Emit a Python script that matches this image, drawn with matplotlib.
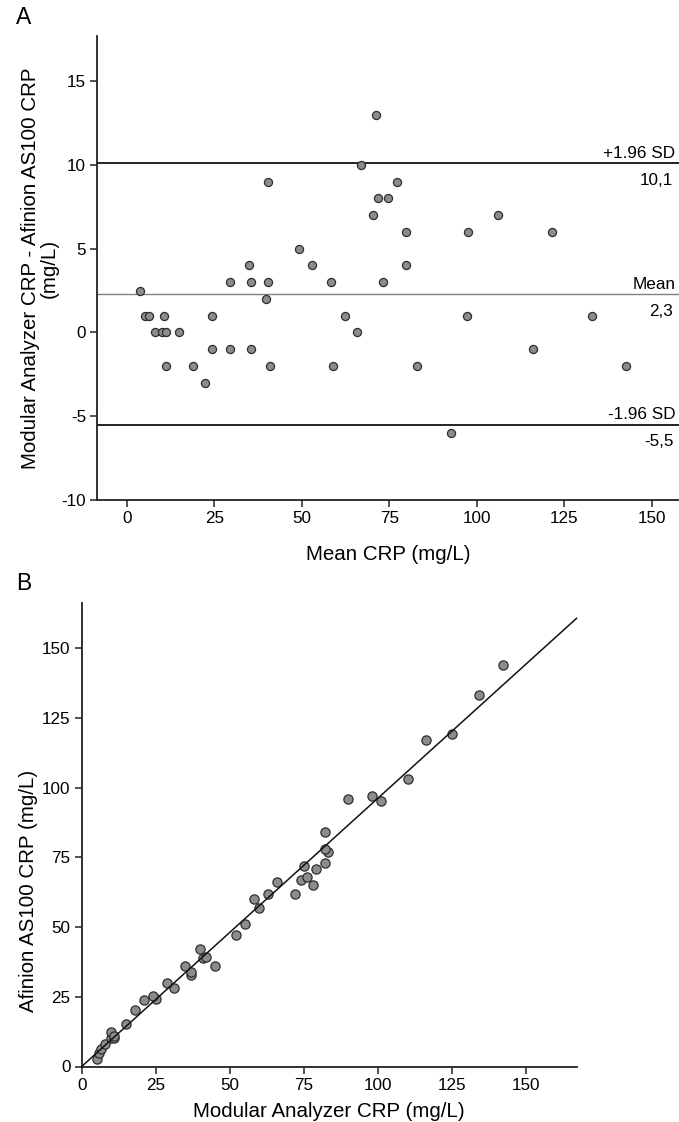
import matplotlib
matplotlib.use('Agg')
import matplotlib.pyplot as plt

plt.rcParams['font.family'] = ['Liberation Sans', 'DejaVu Sans']
plt.rcParams['axes.unicode_minus'] = False

# ---------------- Panel A data (Bland-Altman) ----------------
mean_crp = [3.8, 5.2, 6.5, 8.0, 10.1, 10.6, 11.1, 11.2, 14.9, 19.0, 22.5, 24.5, 24.5,
            29.5, 29.5, 34.9, 35.4, 35.4, 39.9, 40.5, 40.5, 40.9, 49.3, 52.9, 58.4,
            58.8, 62.4, 65.8, 66.9, 70.3, 71.3, 71.8, 73.3, 74.6, 77.3, 79.8, 79.8,
            82.9, 92.7, 97.2, 97.6, 106.2, 116.2, 121.6, 133.0, 142.6]
diff_crp = [2.5, 1, 1, 0, 0, 1, -2, 0, 0, -2, -3, 1, -1,
            3, -1, 4, 3, -1, 2, 9, 3, -2, 5, 4, 3,
            -2, 1, 0, 10, 7, 13, 8, 3, 8, 9, 6, 4,
            -2, -6, 1, 6, 7, -1, 6, 1, -2]
loa_values = [10.1, 2.3, -5.5]
loa_names = ['+1.96 SD', 'Mean', '-1.96 SD']
loa_texts = ['10,1', '2,3', '-5,5']
a_xticks = [0, 25, 50, 75, 100, 125, 150]
a_yticks = [-10, -5, 0, 5, 10, 15]

# ---------------- Panel B data (method comparison) ----------------
modular = [5.0, 5.8, 6.6, 7.9, 9.9, 11.0, 9.8, 10.8, 15.0, 18.0, 20.9, 25.1, 24.0,
           31.1, 28.9, 37.0, 36.9, 34.9, 40.9, 45.0, 42.1, 40.0, 52.0, 55.0, 60.0,
           58.0, 63.0, 66.0, 72.0, 74.0, 77.9, 76.0, 75.0, 79.0, 82.0, 83.1, 82.0,
           82.0, 90.0, 98.0, 101.0, 110.0, 116.1, 125.1, 134.1, 142.1]
afinion = [2.6, 5.0, 6.1, 8.2, 10.1, 10.1, 12.3, 10.9, 15.1, 20.2, 24.0, 24.1, 25.2,
           28.2, 30.0, 32.9, 33.9, 36.0, 39.0, 36.1, 39.1, 42.0, 47.0, 51.0, 56.9,
           59.9, 62.0, 66.0, 62.0, 67.0, 65.0, 68.0, 72.0, 70.9, 73.0, 77.0, 78.1,
           84.0, 96.0, 97.0, 95.1, 103.0, 117.0, 119.1, 133.0, 144.0]
reg_slope = 0.962
reg_intercept = 0.0
b_ticks = [0, 25, 50, 75, 100, 125, 150]

W, H = 679, 1122
fig = plt.figure(figsize=(W / 100, H / 100), dpi=100)

face = '#8c8c8c'
edge = '#2e2e2e'
tick_fs = 12.3
label_fs = 14.8


def style_axes(ax):
    for s in ('top', 'right'):
        ax.spines[s].set_visible(False)
    for s in ('left', 'bottom'):
        ax.spines[s].set_linewidth(1.3)
        ax.spines[s].set_color('#222222')
    ax.tick_params(direction='out', length=5, width=1.1, labelsize=tick_fs,
                   color='#222222', pad=3)


# ---------------- Panel A ----------------
axA = fig.add_axes([97 / W, 1 - 500 / H, 582 / W, 464 / H])
style_axes(axA)
axA.set_xlim(-8.5, 157.8)
axA.set_ylim(-10, 17.7)
axA.set_xticks(a_xticks)
axA.set_yticks(a_yticks)

for val, name, txt in zip(loa_values, loa_names, loa_texts):
    if name == 'Mean':
        axA.axhline(val, color='#808080', lw=1.0, zorder=2)
    else:
        axA.axhline(val, color='#111111', lw=1.3, zorder=2)
    axA.annotate(name, xy=(0.994, val), xycoords=('axes fraction', 'data'),
                 xytext=(0, 3.8), textcoords='offset points',
                 ha='right', va='baseline', fontsize=tick_fs)
    axA.annotate(txt, xy=(0.99, val), xycoords=('axes fraction', 'data'),
                 xytext=(0, -15.6), textcoords='offset points',
                 ha='right', va='baseline', fontsize=tick_fs)

axA.scatter(mean_crp, diff_crp, s=34, facecolor=face, edgecolor=edge,
            linewidths=0.9, zorder=3)

axA.set_xlabel('Mean CRP (mg/L)', fontsize=label_fs)
axA.set_ylabel('Modular Analyzer CRP - Afinion AS100 CRP\n(mg/L)',
               fontsize=label_fs, linespacing=1.0)
axA.xaxis.label.set_verticalalignment('center')
axA.yaxis.label.set_verticalalignment('center')
axA.xaxis.set_label_coords(0.5, (500 - 554.6) / 464)
axA.yaxis.set_label_coords((40 - 97) / 582, 0.5)

# ---------------- Panel B ----------------
bl, br, bb, bt = 81.7, 576.5, 1066.5, 602.6
axB = fig.add_axes([bl / W, 1 - bb / H, (br - bl) / W, (bb - bt) / H])
style_axes(axB)
axB.set_xlim(0, 167)
axB.set_ylim(0, 166.3)
axB.set_xticks(b_ticks)
axB.set_yticks(b_ticks)

axB.scatter(modular, afinion, s=44, facecolor=face, edgecolor=edge,
            linewidths=0.9, zorder=3)
x_line = [0, 167]
y_line = [reg_intercept + reg_slope * x for x in x_line]
axB.plot(x_line, y_line, color='#111111', lw=1.1, zorder=4, clip_on=False)

axB.set_xlabel('Modular Analyzer CRP (mg/L)', fontsize=label_fs)
axB.set_ylabel('Afinion AS100 CRP (mg/L)', fontsize=label_fs)
axB.xaxis.label.set_verticalalignment('center')
axB.yaxis.label.set_verticalalignment('center')
axB.xaxis.set_label_coords(0.5, (bb - 1111.6) / (bb - bt))
axB.yaxis.set_label_coords((29 - bl) / (br - bl), (bb - 891) / (bb - bt))

# Panel letters
fig.text(24 / W, 1 - 17.5 / H, 'A', fontsize=16.5, ha='center', va='center')
fig.text(24 / W, 1 - 584 / H, 'B', fontsize=16.5, ha='center', va='center')

fig.savefig('out.png', dpi=100)
